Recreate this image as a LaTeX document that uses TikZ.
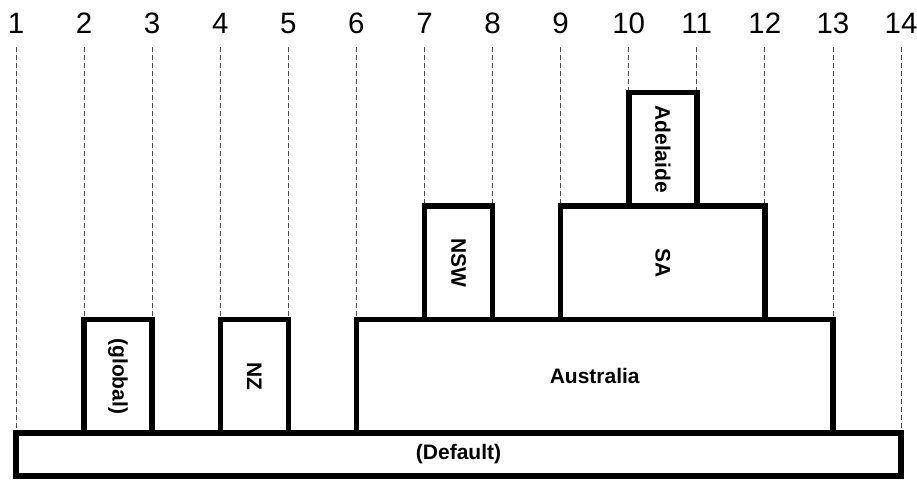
\documentclass[tikz,border=0pt]{standalone}
\usepackage{fontspec}
\usepackage{graphicx}
\setmainfont{Liberation Sans}
\begin{document}
\begin{tikzpicture}[x=1pt,y=-1pt,
  num/.style={font=\fontsize{29.5}{30}\selectfont, anchor=base, inner sep=0pt},
  guide/.style={draw=black!70, line width=0.8pt, dash pattern=on 5pt off 3pt},
  blk/.style={draw=black, fill=white, line width=5.5pt, inner sep=0pt, font=\fontsize{21}{24}\selectfont\bfseries},
]
\useasboundingbox (0,0) rectangle (917,479);
\foreach \i in {1,...,14} {
  \node[num] (n\i) at ({16+(\i-1)*68.077}, 33) {\i};
}
\node[blk, minimum width=885pt, minimum height=43pt] (dflt) at (458.5,454.5) {(Default)};
\foreach \i in {1,...,14} {
  \draw[guide] ([yshift=-14pt]n\i.south) -- (n\i.south |- dflt.north);
}
% level 1
\node[blk, minimum width=68.08pt, minimum height=113.5pt] (glob) at (118.1,376.25) {\rotatebox{-90}{(global)}};
\node[blk, minimum width=68.08pt, minimum height=113.5pt] (nz) at (254.3,376.25) {\rotatebox{-90}{NZ}};
\node[blk, minimum width=476.5pt, minimum height=113.5pt] (aus) at (594.7,376.25) {Australia};
% level 2
\node[blk, minimum width=68.08pt, minimum height=113.5pt] (nsw) at (458.5,262.75) {\rotatebox{-90}{NSW}};
\node[blk, minimum width=204.4pt, minimum height=113.5pt] (sa) at (662.8,262.75) {\rotatebox{-90}{SA}};
% level 3
\node[blk, minimum width=68.08pt, minimum height=113.5pt] (adl) at (662.8,149.25) {\rotatebox{-90}{Adelaide}};
\end{tikzpicture}
\end{document}
